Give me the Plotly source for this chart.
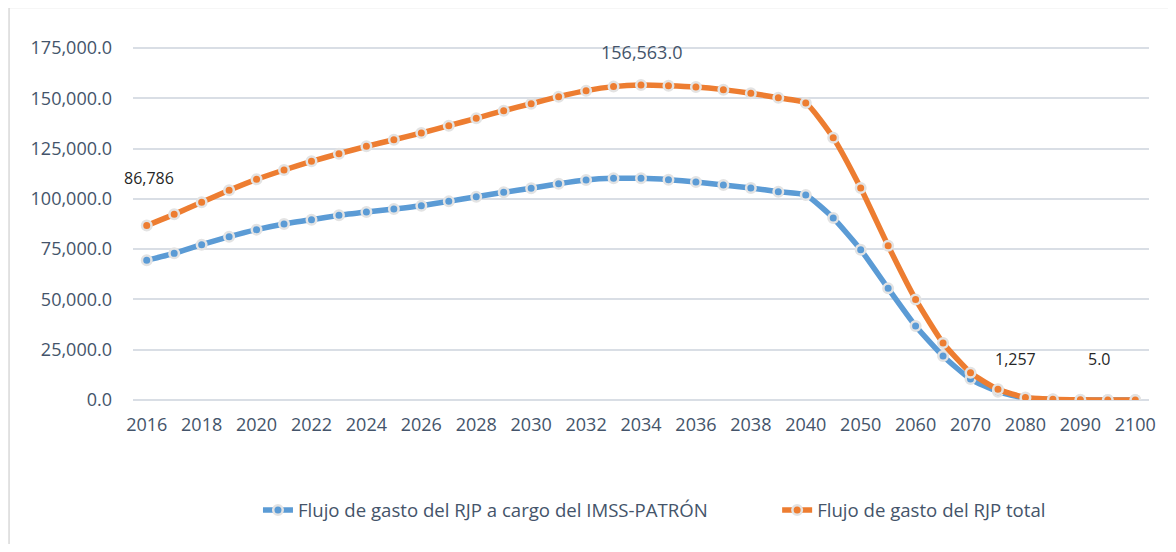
import plotly.graph_objects as go

years = [str(y) for y in range(2016, 2041)] + [str(y) for y in range(2045, 2101, 5)]
tick_labels = [str(y) for y in range(2016, 2041, 2)] + [str(y) for y in range(2050, 2101, 10)]

imss_patron = [69450, 72900, 77200, 81200, 84700, 87500, 89650, 91800, 93450, 94950,
               96600, 98750, 101050, 103250, 105250, 107550, 109400, 110200, 110200, 109550,
               108400, 106900, 105400, 103550, 101900,
               90500, 74750, 55500, 36800, 21900, 10400, 4100, 1000, 250, 60, 4.0, 0.4]
total = [86786, 92300, 98300, 104250, 109700, 114350, 118650, 122450, 126100, 129400,
         132750, 136400, 140050, 143850, 147300, 150800, 153800, 155800, 156563, 156250,
         155600, 154300, 152500, 150300, 147650,
         130400, 105400, 76700, 50000, 28340, 13580, 5300, 1257, 350, 80, 5.0, 0.5]

names = ["Flujo de gasto del RJP a cargo del IMSS-PATRÓN", "Flujo de gasto del RJP total"]
colors = ["#5B9BD5", "#ED7D31"]

AX = "#44546A"
GRID = "#D9DEE5"
FONT = "Open Sans"

idx = list(range(len(years)))

fig = go.Figure()
for vals, name, col, lg in zip([imss_patron, total], names, colors, ["legend", "legend2"]):
    fig.add_trace(go.Scatter(
        x=idx, y=vals, name=name, mode="lines+markers", legend=lg,
        line=dict(color=col, width=5.5, shape="spline", smoothing=0.5),
        marker=dict(symbol="circle", size=9.5, color=col, line=dict(color="#E3E3E3", width=2.5)),
    ))

def lab(year, text, yshift, xshift=0, size=16, color="#262626"):
    i = years.index(year)
    fig.add_annotation(x=i, y=total[i], text=text, showarrow=False,
                       xshift=xshift, yshift=yshift, font=dict(family=FONT, size=size, color=color))

lab("2016", f"{total[years.index('2016')]:,.0f}", 47, xshift=2)
lab("2034", f"{total[years.index('2034')]:,.1f}", 33, size=18, color=AX)
lab("2080", f"{total[years.index('2080')]:,.0f}", 38, xshift=-10)
lab("2095", f"{total[years.index('2095')]:,.1f}", 41, xshift=-8)

fig.add_shape(type="rect", xref="paper", yref="paper",
              x0=-0.1220, x1=1.1, y0=-0.6, y1=1.112,
              line=dict(color="#D9D9D9", width=1.5), fillcolor="rgba(0,0,0,0)", layer="below")

legend_font = dict(family=FONT, size=18.6, color=AX)
fig.update_layout(
    width=1160, height=536,
    margin=dict(l=125, r=17, t=39, b=144),
    paper_bgcolor="white", plot_bgcolor="white",
    font=dict(family=FONT, size=18, color=AX),
    showlegend=True,
    legend=dict(orientation="h", x=0.123, xanchor="left", y=-0.3125, yanchor="middle",
                font=legend_font, bgcolor="rgba(0,0,0,0)"),
    legend2=dict(orientation="h", x=0.634, xanchor="left", y=-0.3125, yanchor="middle",
                 font=legend_font, bgcolor="rgba(0,0,0,0)"),
    xaxis=dict(range=[-0.5, len(years) - 0.5],
               tickvals=[years.index(t) for t in tick_labels], ticktext=tick_labels,
               showgrid=False, showline=False, zeroline=False,
               ticks="", ticklabelstandoff=12,
               tickfont=dict(family=FONT, size=18, color=AX)),
    yaxis=dict(range=[0, 175500], tickvals=list(range(0, 175001, 25000)), tickformat=",.1f",
               showgrid=True, gridcolor=GRID, gridwidth=1.5,
               zeroline=True, zerolinecolor=GRID, zerolinewidth=1.5,
               showline=False, ticks="", ticklabelstandoff=20,
               tickfont=dict(family=FONT, size=18, color=AX)),
)

fig.write_html("out.html")
